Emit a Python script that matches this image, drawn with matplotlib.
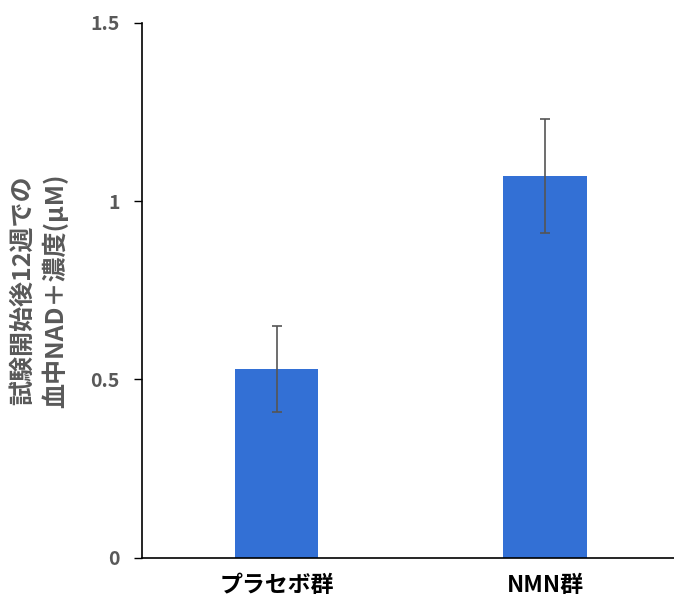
import matplotlib
matplotlib.use("Agg")
import matplotlib.pyplot as plt
from matplotlib.ticker import FuncFormatter

plt.rcParams['font.family'] = ['Noto Sans CJK JP', 'DejaVu Sans']

# data
groups = ['プラセボ群', 'NMN群']
means = [0.53, 1.07]
errs = [0.12, 0.16]
yticks = [0, 0.5, 1, 1.5]

fig = plt.figure(figsize=(6.74, 6.03), dpi=100)
ax = fig.add_axes([0.211, 0.075, 0.797, 0.887])

x = range(len(groups))
ax.bar(x, means, width=0.31, color='#3370D5', zorder=2)
ax.errorbar(x, means, yerr=errs, fmt='none', ecolor='#555555',
            elinewidth=1.2, capsize=3.5, capthick=1.2, zorder=3)

ax.set_xlim(-0.5, 1.5)
ax.set_ylim(0, 1.5)
ax.set_yticks(yticks)
ax.yaxis.set_major_formatter(FuncFormatter(lambda v, p: f'{v:g}'))
ax.set_xticks(list(x))
ax.set_xticklabels(groups, fontsize=16.5, fontweight='bold', color='black')
ax.tick_params(axis='x', length=0, pad=12)
ax.tick_params(axis='y', length=6, width=1, colors='black', labelcolor='#595959',
               labelsize=14, pad=10)
for lbl in ax.get_yticklabels():
    lbl.set_fontweight('bold')

ax.spines['top'].set_visible(False)
ax.spines['right'].set_visible(False)
ax.spines['left'].set_linewidth(1.2)
ax.spines['bottom'].set_linewidth(1.2)

ax.set_ylabel('試験開始後12週での\n血中NAD＋濃度(μM)', fontsize=18, fontweight='bold',
              color='#595959', linespacing=1.3, labelpad=16)

fig.savefig('out.png', dpi=100)
